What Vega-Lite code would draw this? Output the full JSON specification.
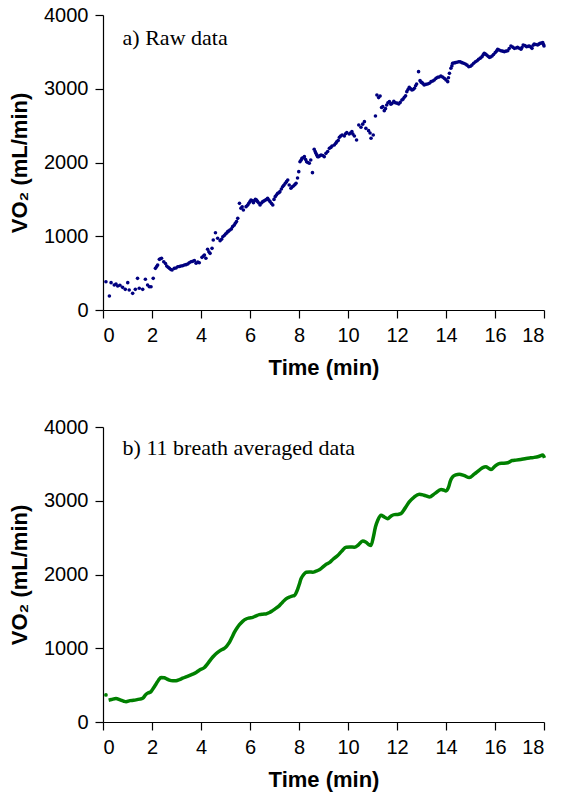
{
"$schema": "https://vega.github.io/schema/vega-lite/v6.json",
"padding": {"left": 8, "top": 5, "right": 10, "bottom": 5},
"background": "white",
"spacing": 39,
"config": {
  "view": {"stroke": null},
  "font": "Liberation Sans",
  "axis": {"grid": false, "domainColor": "#000", "tickColor": "#000", "domainWidth": 1.2, "tickWidth": 1.2, "tickSize": 8, "labelFontSize": 20, "labelColor": "#000", "titleFontSize": 22, "titleFontWeight": "bold", "titleColor": "#000", "labelFont": "Liberation Sans", "titleFont": "Liberation Sans"},
  "axisX": {"labelPadding": 7, "titlePadding": 12},
  "axisY": {"labelPadding": 7, "titlePadding": 12, "format": "d"}
},
"datasets": {
"raw": [
{"t":0.12,"v":384},{"t":0.26,"v":190},{"t":0.33,"v":371},{"t":0.46,"v":339},{"t":0.53,"v":353},{"t":0.6,"v":325},{"t":0.69,"v":335},{"t":0.8,"v":307},{"t":0.91,"v":280},{"t":1.01,"v":371},{"t":1.07,"v":271},{"t":1.21,"v":226},{"t":1.32,"v":280},{"t":1.41,"v":429},{"t":1.48,"v":294},{"t":1.62,"v":280},{"t":1.73,"v":416},{"t":1.82,"v":339},{"t":1.89,"v":316},{"t":1.96,"v":316},{"t":2.05,"v":429},{"t":2.14,"v":565},{"t":2.19,"v":590},{"t":2.23,"v":610},{"t":2.3,"v":687},{"t":2.35,"v":695},{"t":2.39,"v":701},{"t":2.48,"v":655},{"t":2.55,"v":630},{"t":2.6,"v":597},{"t":2.66,"v":580},{"t":2.71,"v":565},{"t":2.77,"v":550},{"t":2.82,"v":542},{"t":2.91,"v":565},{"t":2.98,"v":570},{"t":3.05,"v":587},{"t":3.12,"v":590},{"t":3.18,"v":597},{"t":3.25,"v":600},{"t":3.32,"v":610},{"t":3.39,"v":615},{"t":3.46,"v":624},{"t":3.52,"v":640},{"t":3.59,"v":655},{"t":3.66,"v":660},{"t":3.73,"v":669},{"t":3.8,"v":633},{"t":3.87,"v":650},{"t":3.93,"v":641},{"t":4.04,"v":714},{"t":4.1,"v":730},{"t":4.14,"v":746},{"t":4.2,"v":701},{"t":4.27,"v":823},{"t":4.32,"v":790},{"t":4.37,"v":768},{"t":4.45,"v":836},{"t":4.5,"v":949},{"t":4.59,"v":1048},{"t":4.68,"v":972},{"t":4.78,"v":940},{"t":4.84,"v":960},{"t":4.89,"v":994},{"t":4.95,"v":1010},{"t":5.0,"v":1031},{"t":5.05,"v":1045},{"t":5.09,"v":1062},{"t":5.13,"v":1070},{"t":5.18,"v":1085},{"t":5.24,"v":1100},{"t":5.29,"v":1130},{"t":5.35,"v":1150},{"t":5.4,"v":1175},{"t":5.45,"v":1200},{"t":5.5,"v":1243},{"t":5.57,"v":1446},{"t":5.63,"v":1379},{"t":5.68,"v":1400},{"t":5.73,"v":1356},{"t":5.84,"v":1401},{"t":5.9,"v":1420},{"t":5.95,"v":1446},{"t":6.0,"v":1470},{"t":6.04,"v":1492},{"t":6.09,"v":1480},{"t":6.14,"v":1455},{"t":6.18,"v":1480},{"t":6.22,"v":1501},{"t":6.27,"v":1490},{"t":6.31,"v":1469},{"t":6.36,"v":1450},{"t":6.41,"v":1424},{"t":6.47,"v":1450},{"t":6.52,"v":1469},{"t":6.58,"v":1480},{"t":6.63,"v":1492},{"t":6.68,"v":1500},{"t":6.72,"v":1514},{"t":6.77,"v":1490},{"t":6.82,"v":1469},{"t":6.88,"v":1445},{"t":6.93,"v":1424},{"t":6.98,"v":1500},{"t":7.03,"v":1537},{"t":7.08,"v":1560},{"t":7.13,"v":1582},{"t":7.18,"v":1590},{"t":7.22,"v":1605},{"t":7.28,"v":1640},{"t":7.33,"v":1672},{"t":7.38,"v":1690},{"t":7.44,"v":1718},{"t":7.49,"v":1740},{"t":7.54,"v":1763},{"t":7.6,"v":1695},{"t":7.67,"v":1650},{"t":7.72,"v":1670},{"t":7.77,"v":1681},{"t":7.83,"v":1700},{"t":7.88,"v":1718},{"t":7.94,"v":1790},{"t":7.99,"v":1876},{"t":8.04,"v":2011},{"t":8.08,"v":2030},{"t":8.12,"v":2056},{"t":8.17,"v":2065},{"t":8.22,"v":2079},{"t":8.27,"v":2040},{"t":8.31,"v":2011},{"t":8.36,"v":2000},{"t":8.42,"v":1989},{"t":8.48,"v":2034},{"t":8.55,"v":1862},{"t":8.62,"v":2179},{"t":8.66,"v":2150},{"t":8.69,"v":2124},{"t":8.73,"v":2100},{"t":8.76,"v":2079},{"t":8.8,"v":2079},{"t":8.85,"v":2090},{"t":8.9,"v":2102},{"t":8.97,"v":2095},{"t":9.03,"v":2079},{"t":9.1,"v":2124},{"t":9.17,"v":2150},{"t":9.24,"v":2192},{"t":9.3,"v":2205},{"t":9.35,"v":2224},{"t":9.44,"v":2237},{"t":9.5,"v":2260},{"t":9.54,"v":2282},{"t":9.6,"v":2300},{"t":9.65,"v":2341},{"t":9.7,"v":2360},{"t":9.76,"v":2373},{"t":9.85,"v":2359},{"t":9.9,"v":2390},{"t":9.95,"v":2405},{"t":10.05,"v":2386},{"t":10.1,"v":2400},{"t":10.16,"v":2418},{"t":10.2,"v":2385},{"t":10.26,"v":2359},{"t":10.35,"v":2305},{"t":10.44,"v":2508},{"t":10.53,"v":2477},{"t":10.6,"v":2520},{"t":10.67,"v":2554},{"t":10.73,"v":2463},{"t":10.84,"v":2432},{"t":10.9,"v":2400},{"t":10.94,"v":2328},{"t":11.03,"v":2373},{"t":11.12,"v":2631},{"t":11.18,"v":2915},{"t":11.25,"v":2880},{"t":11.31,"v":2902},{"t":11.37,"v":2745},{"t":11.42,"v":2757},{"t":11.48,"v":2703},{"t":11.53,"v":2730},{"t":11.58,"v":2780},{"t":11.63,"v":2810},{"t":11.69,"v":2825},{"t":11.75,"v":2790},{"t":11.8,"v":2802},{"t":11.87,"v":2830},{"t":11.93,"v":2811},{"t":12.0,"v":2805},{"t":12.07,"v":2793},{"t":12.13,"v":2815},{"t":12.2,"v":2847},{"t":12.25,"v":2860},{"t":12.3,"v":2884},{"t":12.35,"v":2905},{"t":12.4,"v":2961},{"t":12.45,"v":2990},{"t":12.5,"v":3019},{"t":12.56,"v":3000},{"t":12.61,"v":2983},{"t":12.66,"v":2990},{"t":12.71,"v":3006},{"t":12.76,"v":3040},{"t":12.8,"v":3064},{"t":12.88,"v":3232},{"t":12.94,"v":3110},{"t":12.98,"v":3090},{"t":13.02,"v":3083},{"t":13.06,"v":3070},{"t":13.11,"v":3051},{"t":13.18,"v":3060},{"t":13.25,"v":3064},{"t":13.32,"v":3075},{"t":13.39,"v":3096},{"t":13.46,"v":3105},{"t":13.52,"v":3119},{"t":13.59,"v":3140},{"t":13.66,"v":3155},{"t":13.72,"v":3160},{"t":13.79,"v":3173},{"t":13.86,"v":3160},{"t":13.93,"v":3141},{"t":14.0,"v":3120},{"t":14.07,"v":3096},{"t":14.1,"v":3150},{"t":14.14,"v":3209},{"t":14.2,"v":3277},{"t":14.24,"v":3310},{"t":14.27,"v":3345},{"t":14.32,"v":3350},{"t":14.38,"v":3354},{"t":14.45,"v":3360},{"t":14.52,"v":3367},{"t":14.58,"v":3365},{"t":14.65,"v":3354},{"t":14.72,"v":3345},{"t":14.79,"v":3336},{"t":14.86,"v":3320},{"t":14.93,"v":3299},{"t":15.0,"v":3305},{"t":15.06,"v":3322},{"t":15.13,"v":3345},{"t":15.2,"v":3367},{"t":15.27,"v":3380},{"t":15.33,"v":3399},{"t":15.4,"v":3415},{"t":15.47,"v":3435},{"t":15.52,"v":3460},{"t":15.56,"v":3480},{"t":15.61,"v":3470},{"t":15.66,"v":3458},{"t":15.72,"v":3440},{"t":15.77,"v":3426},{"t":15.82,"v":3430},{"t":15.88,"v":3444},{"t":15.94,"v":3465},{"t":16.01,"v":3490},{"t":16.06,"v":3510},{"t":16.11,"v":3535},{"t":16.17,"v":3525},{"t":16.24,"v":3516},{"t":16.31,"v":3510},{"t":16.38,"v":3503},{"t":16.45,"v":3510},{"t":16.52,"v":3516},{"t":16.58,"v":3545},{"t":16.65,"v":3580},{"t":16.72,"v":3565},{"t":16.79,"v":3548},{"t":16.86,"v":3552},{"t":16.92,"v":3561},{"t":16.99,"v":3550},{"t":17.06,"v":3535},{"t":17.1,"v":3560},{"t":17.15,"v":3593},{"t":17.22,"v":3585},{"t":17.29,"v":3571},{"t":17.35,"v":3575},{"t":17.4,"v":3580},{"t":17.46,"v":3565},{"t":17.51,"v":3548},{"t":17.56,"v":3590},{"t":17.6,"v":3607},{"t":17.67,"v":3600},{"t":17.74,"v":3593},{"t":17.79,"v":3605},{"t":17.84,"v":3616},{"t":17.9,"v":3620},{"t":17.95,"v":3625},{"t":17.98,"v":3600},{"t":18.0,"v":3580}
],
"avg": [
{"t":0.12,"v":367},{"t":0.23,"v":295},{"t":0.35,"v":305},{"t":0.53,"v":318},{"t":0.7,"v":300},{"t":0.85,"v":282},{"t":0.94,"v":276},{"t":1.1,"v":290},{"t":1.25,"v":295},{"t":1.35,"v":300},{"t":1.5,"v":310},{"t":1.62,"v":322},{"t":1.76,"v":376},{"t":1.85,"v":395},{"t":1.96,"v":412},{"t":2.06,"v":460},{"t":2.16,"v":512},{"t":2.27,"v":570},{"t":2.37,"v":603},{"t":2.5,"v":600},{"t":2.6,"v":585},{"t":2.71,"v":567},{"t":2.85,"v":558},{"t":2.98,"v":560},{"t":3.12,"v":575},{"t":3.25,"v":594},{"t":3.45,"v":620},{"t":3.66,"v":649},{"t":3.8,"v":672},{"t":3.93,"v":703},{"t":4.14,"v":739},{"t":4.28,"v":795},{"t":4.41,"v":853},{"t":4.55,"v":905},{"t":4.68,"v":943},{"t":4.82,"v":975},{"t":4.95,"v":997},{"t":5.05,"v":1030},{"t":5.16,"v":1079},{"t":5.26,"v":1145},{"t":5.36,"v":1215},{"t":5.47,"v":1275},{"t":5.57,"v":1320},{"t":5.7,"v":1365},{"t":5.84,"v":1397},{"t":5.97,"v":1410},{"t":6.11,"v":1419},{"t":6.25,"v":1440},{"t":6.38,"v":1456},{"t":6.52,"v":1462},{"t":6.65,"v":1465},{"t":6.8,"v":1485},{"t":6.92,"v":1510},{"t":7.05,"v":1540},{"t":7.2,"v":1578},{"t":7.33,"v":1625},{"t":7.47,"v":1669},{"t":7.62,"v":1695},{"t":7.75,"v":1710},{"t":7.81,"v":1714},{"t":7.88,"v":1750},{"t":7.95,"v":1805},{"t":8.02,"v":1875},{"t":8.08,"v":1941},{"t":8.18,"v":1995},{"t":8.29,"v":2031},{"t":8.42,"v":2035},{"t":8.56,"v":2031},{"t":8.69,"v":2045},{"t":8.83,"v":2063},{"t":8.97,"v":2100},{"t":9.1,"v":2136},{"t":9.24,"v":2160},{"t":9.4,"v":2210},{"t":9.58,"v":2258},{"t":9.75,"v":2320},{"t":9.92,"v":2371},{"t":10.08,"v":2372},{"t":10.26,"v":2371},{"t":10.42,"v":2400},{"t":10.6,"v":2453},{"t":10.72,"v":2440},{"t":10.85,"v":2405},{"t":10.94,"v":2394},{"t":11.03,"v":2500},{"t":11.12,"v":2644},{"t":11.22,"v":2740},{"t":11.35,"v":2803},{"t":11.48,"v":2780},{"t":11.62,"v":2757},{"t":11.75,"v":2790},{"t":11.89,"v":2812},{"t":12.03,"v":2815},{"t":12.16,"v":2826},{"t":12.33,"v":2900},{"t":12.5,"v":2984},{"t":12.7,"v":3050},{"t":12.91,"v":3088},{"t":13.1,"v":3075},{"t":13.32,"v":3052},{"t":13.55,"v":3100},{"t":13.8,"v":3152},{"t":13.9,"v":3145},{"t":14.0,"v":3133},{"t":14.1,"v":3180},{"t":14.18,"v":3270},{"t":14.27,"v":3324},{"t":14.4,"v":3350},{"t":14.54,"v":3361},{"t":14.75,"v":3340},{"t":14.95,"v":3315},{"t":15.15,"v":3360},{"t":15.36,"v":3415},{"t":15.5,"v":3450},{"t":15.63,"v":3460},{"t":15.74,"v":3440},{"t":15.84,"v":3424},{"t":16.0,"v":3470},{"t":16.18,"v":3506},{"t":16.35,"v":3508},{"t":16.52,"v":3515},{"t":16.7,"v":3545},{"t":16.86,"v":3551},{"t":17.05,"v":3560},{"t":17.27,"v":3574},{"t":17.45,"v":3582},{"t":17.6,"v":3588},{"t":17.78,"v":3600},{"t":17.95,"v":3619},{"t":18.02,"v":3580}
]
},
"vconcat": [
 {"width": 441, "height": 295,
  "layer": [
   {"data": {"name": "raw"},
    "mark": {"type": "point", "filled": true, "size": 13, "color": "#000080", "opacity": 1},
    "encoding": {
     "x": {"field": "t", "type": "quantitative", "scale": {"domain": [0, 18], "nice": false}, "axis": {"values": [0,2,4,6,8,10,12,14,16,18], "title": "Time (min)"}},
     "y": {"field": "v", "type": "quantitative", "scale": {"domain": [0, 4000], "nice": false}, "axis": {"values": [0,1000,2000,3000,4000], "title": "VO₂ (mL/min)"}}
    }},
   {"data": {"values": [{"label": "a) Raw data"}]},
    "mark": {"type": "text", "font": "Liberation Serif", "fontSize": 22, "align": "left", "baseline": "alphabetic", "color": "#000"},
    "encoding": {
     "x": {"datum": 0.8, "type": "quantitative"},
     "y": {"datum": 3593, "type": "quantitative"},
     "text": {"field": "label"}
    }}
  ]},
 {"width": 441, "height": 295,
  "layer": [
   {"data": {"name": "avg"},
    "transform": [{"filter": "datum.t > 0.2"}],
    "mark": {"type": "line", "strokeWidth": 3.5, "color": "#008000", "interpolate": "monotone"},
    "encoding": {
     "x": {"field": "t", "type": "quantitative", "scale": {"domain": [0, 18], "nice": false}, "axis": {"values": [0,2,4,6,8,10,12,14,16,18], "title": "Time (min)"}},
     "y": {"field": "v", "type": "quantitative", "scale": {"domain": [0, 4000], "nice": false}, "axis": {"values": [0,1000,2000,3000,4000], "title": "VO₂ (mL/min)"}}
    }},
   {"data": {"name": "avg"},
    "transform": [{"filter": "datum.t < 0.2"}],
    "mark": {"type": "point", "filled": true, "size": 14, "color": "#008000", "opacity": 1},
    "encoding": {
     "x": {"field": "t", "type": "quantitative"},
     "y": {"field": "v", "type": "quantitative"}
    }},
   {"data": {"values": [{"label": "b) 11 breath averaged data"}]},
    "mark": {"type": "text", "font": "Liberation Serif", "fontSize": 22, "align": "left", "baseline": "alphabetic", "color": "#000"},
    "encoding": {
     "x": {"datum": 0.8, "type": "quantitative"},
     "y": {"datum": 3619, "type": "quantitative"},
     "text": {"field": "label"}
    }}
  ]}
]
}
